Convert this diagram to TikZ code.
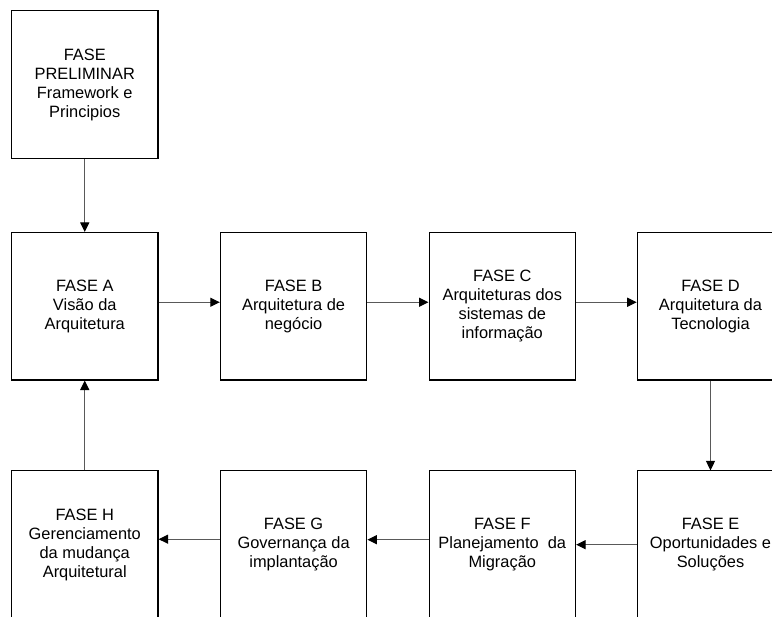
\documentclass[tikz,border=0pt]{standalone}
\usepackage{fontspec}
\setmainfont{Liberation Sans}
\usetikzlibrary{arrows.meta}

\tikzset{
  fase/.style={draw=black, line width=1.1pt, minimum width=146.5pt, minimum height=147.5pt,
               inner sep=0pt, align=center, font=\fontsize{16.4}{19}\selectfont},
  flow/.style={draw=black!65, line width=1.1pt,
               -{Triangle[length=9.5pt,width=9pt,color=black]}}
}

\begin{document}
\begin{tikzpicture}[x=1pt,y=-1pt]
  % page frame; the rightmost column and the lower row run past its edges
  \clip (0,0) rectangle (772,617);
  \fill[white] (0,0) rectangle (772,617);

  % preliminary phase
  \node[fase] (P) at (84.75,84.5) {FASE\\PRELIMINAR\\Framework e\\Principios};

  % upper row
  \node[fase] (A) at (84.75,306.25) {FASE A\\Visão da\\Arquitetura};
  \node[fase] (B) at (293.6,306.25) {FASE B\\Arquitetura de\\negócio};
  \node[fase] (C) at (502.3,306.25) {FASE C\\Arquiteturas dos\\sistemas de\\informação};
  \node[fase] (D) at (710.5,306.25) {FASE D\\Arquitetura da\\Tecnologia};

  % lower row
  \node[fase] (H) at (84.75,544.7) {FASE H\\Gerenciamento\\da mudança\\Arquitetural};
  \node[fase] (G) at (293.6,544.7) {FASE G\\Governança da\\implantação};
  \node[fase] (F) at (502.3,544.7) {FASE F\\Planejamento\ \ da\\Migração};
  \node[fase] (E) at (710.5,544.7) {FASE E\\Oportunidades e\\Soluções};

  % connectors
  \draw[flow] (P.south) -- (A.north);
  \draw[flow] ([yshift=4pt]A.east) -- ([yshift=4pt]B.west);
  \draw[flow] ([yshift=4pt]B.east) -- ([yshift=4pt]C.west);
  \draw[flow] ([yshift=4pt]C.east) -- ([yshift=4pt]D.west);
  \draw[flow] (D.south) -- (E.north);
  \draw[flow] (E.west) -- (F.east);
  \draw[flow] ([yshift=5pt]F.west) -- ([yshift=5pt]G.east);
  \draw[flow] ([yshift=5.5pt]G.west) -- ([yshift=5.5pt]H.east);
  \draw[flow] (H.north) -- (A.south);
\end{tikzpicture}
\end{document}
